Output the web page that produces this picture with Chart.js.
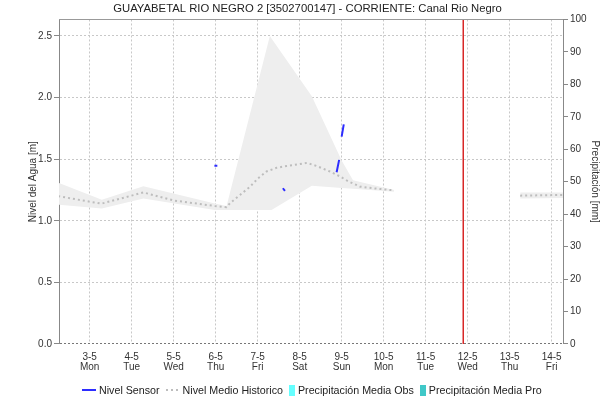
<!DOCTYPE html>
<html>
<head>
<meta charset="utf-8">
<script src="https://cdn.jsdelivr.net/npm/chart.js@4.4.1/dist/chart.umd.min.js"></script>
<style>
  html, body { margin: 0; padding: 0; background: #fff; }
  #wrap { position: relative; width: 615px; height: 399px; }
  #legend {
    position: absolute; left: 0; top: 383px; width: 615px; height: 14px;
    display: flex; align-items: center; padding-left: 82px; box-sizing: border-box;
    font: 10.7px "Liberation Sans", Arial, sans-serif; color: #222; line-height: 14px;
    white-space: nowrap;
  }
  .item { display: flex; align-items: center; margin-right: 6px; }
  .item span.lbl { margin-left: 3px; }
</style>
</head>
<body>
<div id="wrap">
  <canvas id="c" width="615" height="399"></canvas>
  <div id="legend"></div>
</div>
<script>
// Station and axes
const titleText = 'GUAYABETAL RIO NEGRO 2 [3502700147] - CORRIENTE: Canal Rio Negro';
const dayLabels = ['3-5', '4-5', '5-5', '6-5', '7-5', '8-5', '9-5', '10-5', '11-5', '12-5', '13-5', '14-5'];
const weekDays  = ['Mon', 'Tue', 'Wed', 'Thu', 'Fri', 'Sat', 'Sun', 'Mon', 'Tue', 'Wed', 'Thu', 'Fri'];
// time axis in days from 3-5 00:00
const xMin = -0.73;
const xMax = 11.27;
const levelMax = 2.634;
const precipMax = 100;

// Historical range (band), days and levels [m]
const bandTime  = [-0.75, 0.29, 1.28, 2.98, 3.26, 4.29, 4.33, 5.29, 6.0, 6.27, 7.25, 8.5, 10.25, 11.3];
const bandUpper = [1.31, 1.17, 1.28, 1.14, 1.12, 2.50, 2.48, 2.01, 1.49, 1.33, 1.25, null, 1.23, 1.23];
const bandLower = [1.13, 1.10, 1.18, 1.088, 1.088, 1.088, 1.088, 1.285, 1.267, 1.26, 1.236, null, 1.18, 1.185];

// Historical mean level
const meanTime  = [-0.75, 0, 0.29, 1.28, 2.0, 2.98, 3.26, 3.34, 3.58, 3.82, 4.01, 4.21, 4.45, 4.69, 4.97, 5.17,
                   5.40, 5.72, 5.96, 6.16, 6.44, 6.75, 7.15, 7.25, 8.5, 10.25, 11.3];
const meanLevel = [1.20, 1.155, 1.14, 1.23, 1.165, 1.12, 1.11, 1.142, 1.21, 1.277, 1.345, 1.40, 1.43, 1.445, 1.458, 1.47,
                   1.445, 1.40, 1.36, 1.32, 1.277, 1.264, 1.25, 1.248, null, 1.204, 1.21];

// Sensor readings (null breaks the line)
const sensorTime  = [2.97, 3.04, 3.5, 4.60, 4.65, 5.0, 5.88, 5.94, 5.97, 6.00, 6.05];
const sensorLevel = [1.447, 1.447, null, 1.264, 1.242, null, 1.394, 1.494, null, 1.683, 1.783];

// Current time marker
const nowTime = 8.895;

// Precipitation [mm] (no values in this period)
const precipObsTime = [];
const precipObs = [];
const precipProTime = [];
const precipPro = [];

const pts = (xs, ys) => xs.map((x, i) => ({ x: x, y: ys[i] }));

const FONT = '"Liberation Sans", Arial, sans-serif';
Chart.defaults.font.family = FONT;
Chart.defaults.color = '#333';

const frameTop = {
  id: 'frameTop',
  afterDraw(chart) {
    const { ctx, chartArea: a } = chart;
    ctx.save();
    ctx.strokeStyle = '#999';
    ctx.lineWidth = 1;
    ctx.beginPath();
    ctx.moveTo(a.left, Math.round(a.top) + 0.5);
    ctx.lineTo(a.right, Math.round(a.top) + 0.5);
    ctx.stroke();
    ctx.restore();
  }
};

const chart = new Chart(document.getElementById('c'), {
  type: 'line',
  data: {
    datasets: [
      {
        label: 'Ahora', data: [{ x: nowTime, y: 0 }, { x: nowTime, y: levelMax }],
        borderColor: '#d82828', borderWidth: 1.5, pointRadius: 0, yAxisID: 'y'
      },
      {
        label: 'Nivel Sensor', data: pts(sensorTime, sensorLevel),
        borderColor: 'rgb(45,45,255)', borderWidth: 2, pointRadius: 0, spanGaps: false,
        yAxisID: 'y', legendSwatch: 'line'
      },
      {
        label: 'Nivel Medio Historico', data: pts(meanTime, meanLevel),
        borderColor: '#bdbdbd', borderWidth: 2, borderDash: [2, 3], pointRadius: 0, spanGaps: false,
        yAxisID: 'y', legendSwatch: 'dash'
      },
      {
        label: 'Rango Historico Max', data: pts(bandTime, bandUpper),
        borderWidth: 0, pointRadius: 0, backgroundColor: '#eeeeee', fill: '+1', spanGaps: false, yAxisID: 'y'
      },
      {
        label: 'Rango Historico Min', data: pts(bandTime, bandLower),
        borderWidth: 0, pointRadius: 0, backgroundColor: '#eeeeee', fill: false, spanGaps: false, yAxisID: 'y'
      },
      {
        type: 'bar', label: 'Precipitación Media Obs', data: pts(precipObsTime, precipObs),
        backgroundColor: '#66ffff', yAxisID: 'y1', legendSwatch: 'box'
      },
      {
        type: 'bar', label: 'Precipitación Media Pro', data: pts(precipProTime, precipPro),
        backgroundColor: '#40c8c8', yAxisID: 'y1', legendSwatch: 'box'
      }
    ]
  },
  options: {
    responsive: false,
    animation: false,
    devicePixelRatio: 1,
    layout: { padding: 0 },
    plugins: {
      legend: { display: false },
      tooltip: { enabled: false },
      title: {
        display: true, text: titleText, color: '#222',
        font: { size: 11.3, weight: 'normal', family: FONT },
        padding: { top: 2.5, bottom: 3.4 }
      }
    },
    scales: {
      x: {
        type: 'linear', min: xMin, max: xMax, offset: false,
        afterBuildTicks: s => { s.ticks = dayLabels.map((_, i) => ({ value: i })); },
        afterFit: s => { s.height = 55; },
        ticks: {
          autoSkip: false, maxRotation: 0, padding: 7.5, color: '#333',
          font: { size: 10, lineHeight: 1.05 },
          callback: v => [dayLabels[v], weekDays[v]]
        },
        grid: { color: '#c8c8c8', drawTicks: false, offset: false },
        border: { display: false, dash: [2, 2] }
      },
      y: {
        position: 'left', min: 0, max: levelMax,
        afterFit: s => { s.width = 59; },
        ticks: { stepSize: 0.5, includeBounds: false, padding: 2, color: '#333', font: { size: 10 },
                 callback: v => v.toFixed(1) },
        grid: {
          color: c => (c.tick && c.tick.value === 0) ? '#777' : '#c8c8c8',
          tickColor: '#888', tickLength: 5, tickBorderDash: []
        },
        border: { color: '#888', dash: [2, 2] },
        title: { display: true, text: 'Nivel del Agua [m]', color: '#333', font: { size: 10 },
                 padding: { top: 27, bottom: 0 } }
      },
      y1: {
        position: 'right', min: 0, max: precipMax,
        afterFit: s => { s.width = 52; },
        ticks: { stepSize: 10, includeBounds: false, padding: 2, color: '#333', font: { size: 10 } },
        grid: { drawOnChartArea: false, tickColor: '#888', tickLength: 5 },
        border: { color: '#888' },
        title: { display: true, text: 'Precipitación [mm]', color: '#333', font: { size: 10 },
                 padding: { top: 14, bottom: 0 } }
      }
    }
  },
  plugins: [frameTop]
});

// Legend row built from the datasets that carry a swatch
const legendEl = document.getElementById('legend');
chart.data.datasets.filter(d => d.legendSwatch).forEach(d => {
  const item = document.createElement('div');
  item.className = 'item';
  const sw = document.createElement('span');
  sw.style.display = 'inline-block';
  if (d.legendSwatch === 'line') {
    sw.style.width = '14px'; sw.style.height = '2px'; sw.style.background = d.borderColor;
  } else if (d.legendSwatch === 'dash') {
    sw.style.width = '14px'; sw.style.height = '2px';
    sw.style.background = 'repeating-linear-gradient(90deg,' + d.borderColor + ' 0 2px, transparent 2px 5px)';
  } else {
    sw.style.width = '6px'; sw.style.height = '11px'; sw.style.background = d.backgroundColor;
  }
  const lbl = document.createElement('span');
  lbl.className = 'lbl';
  lbl.textContent = d.label;
  item.appendChild(sw);
  item.appendChild(lbl);
  legendEl.appendChild(item);
});
</script>
</body>
</html>
